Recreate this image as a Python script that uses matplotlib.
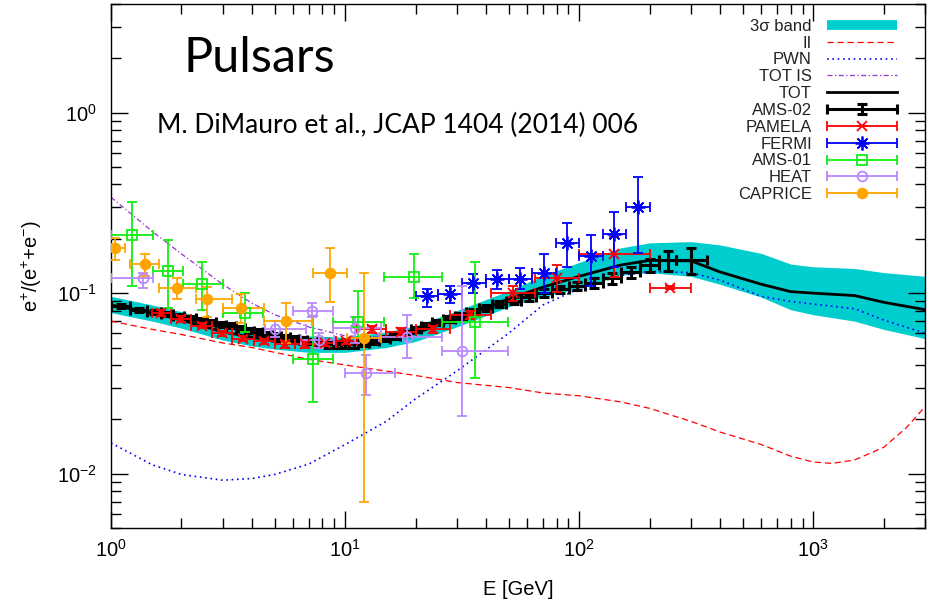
import numpy as np
import matplotlib.pyplot as plt
from matplotlib.lines import Line2D
from matplotlib.legend_handler import HandlerErrorbar

plt.rcParams['font.family'] = ['Liberation Sans', 'DejaVu Sans']
plt.rcParams['mathtext.fontset'] = 'custom'
plt.rcParams['mathtext.rm'] = 'Liberation Sans'
plt.rcParams['mathtext.it'] = 'Liberation Sans:italic'
plt.rcParams['mathtext.bf'] = 'Liberation Sans:bold'

# model curves (energy grid in GeV)
E_model = [1, 1.5, 2, 3, 4, 5, 7, 10, 15, 20, 30, 50, 70, 100, 150, 200, 300, 400,
           600, 800, 1000, 1500, 2000, 3000]
band_lo = [0.078, 0.070, 0.064, 0.055, 0.051, 0.049, 0.047, 0.047, 0.050, 0.054, 0.065, 0.084,
           0.096, 0.106, 0.126, 0.130, 0.124, 0.112, 0.095, 0.081, 0.076, 0.070, 0.063, 0.056]
band_hi = [0.096, 0.086, 0.079, 0.068, 0.063, 0.060, 0.058, 0.057, 0.061, 0.066, 0.080, 0.103,
           0.125, 0.148, 0.178, 0.190, 0.193, 0.185, 0.166, 0.145, 0.140, 0.137, 0.130, 0.124]
tot = [0.086, 0.078, 0.071, 0.061, 0.057, 0.054, 0.052, 0.052, 0.055, 0.060, 0.072, 0.093,
       0.108, 0.124, 0.143, 0.152, 0.151, 0.131, 0.112, 0.102, 0.100, 0.097, 0.089, 0.081]
tot_is = [0.340, 0.220, 0.165, 0.112, 0.088, 0.076, 0.065, 0.058, 0.057, 0.061, 0.072, 0.093,
          0.108, 0.124, 0.143, 0.152, 0.151, 0.131, 0.112, 0.102, 0.100, 0.097, 0.089, 0.081]
pwn = [0.0148, 0.0112, 0.0099, 0.0092, 0.0094, 0.0099, 0.0113, 0.0145, 0.0195, 0.026, 0.037, 0.060,
       0.086, 0.106, 0.125, 0.132, 0.130, 0.118, 0.096, 0.090, 0.087, 0.082, 0.071, 0.060]

E_ii = [1, 1.5, 2, 3, 4, 5, 7, 10, 15, 20, 30, 50, 70, 100, 150, 200, 300, 400, 600, 800,
        1000, 1200, 1500, 2000, 2500, 3000]
ii = [0.070, 0.063, 0.059, 0.053, 0.050, 0.047, 0.043, 0.040, 0.037, 0.035, 0.032, 0.030, 0.028,
      0.027, 0.025, 0.023, 0.0195, 0.017, 0.0145, 0.0125, 0.0116, 0.0114, 0.0119, 0.0140, 0.0180,
      0.0235]

# AMS-02
ams02_edges = [1.0, 1.21, 1.42, 1.63, 1.84, 2.05, 2.31, 2.56, 2.82, 3.11, 3.41, 3.75, 4.10, 4.48,
               4.89, 5.34, 5.82, 6.34, 6.90, 7.50, 8.15, 8.85, 9.59, 10.4, 11.4, 12.6, 14.0, 15.5,
               17.2, 19.1, 21.2, 23.6, 26.3, 29.4, 33.0, 37.3, 42.5, 48.9, 56.5, 65.7, 76.8, 90.1,
               106, 126, 151, 182, 220, 260, 350]
ams02_frac = [0.085, 0.081, 0.079, 0.077, 0.075, 0.073, 0.071, 0.069, 0.067, 0.066,
              0.064, 0.062, 0.061, 0.059, 0.058, 0.057, 0.056, 0.055, 0.054, 0.053,
              0.052, 0.052, 0.052, 0.052, 0.053, 0.054, 0.056, 0.058, 0.060, 0.063,
              0.066, 0.069, 0.072, 0.075, 0.079, 0.083, 0.087, 0.091, 0.095, 0.100,
              0.105, 0.110, 0.114, 0.121, 0.131, 0.143, 0.152, 0.153]
ams02_err = [0.002, 0.002, 0.002, 0.002, 0.002, 0.002, 0.002, 0.002, 0.002, 0.002,
             0.002, 0.002, 0.002, 0.002, 0.002, 0.002, 0.002, 0.002, 0.002, 0.002,
             0.002, 0.002, 0.002, 0.002, 0.002, 0.002, 0.002, 0.002, 0.002, 0.002,
             0.002, 0.002, 0.003, 0.003, 0.003, 0.003, 0.003, 0.004, 0.004, 0.005,
             0.005, 0.006, 0.007, 0.008, 0.009, 0.012, 0.019, 0.025]

# PAMELA
pam_lo = [1.5, 1.8, 2.2, 2.7, 3.3, 4.1, 5.0, 6.1, 7.4, 9.1, 11.2, 15.0, 20.0, 28.0, 42.0, 65.0, 100.0, 200.0]
pam_hi = [1.8, 2.2, 2.7, 3.3, 4.1, 5.0, 6.1, 7.4, 9.1, 11.2, 15.0, 20.0, 28.0, 42.0, 65.0, 100.0, 200.0, 300.0]
pam_E = [1.64, 1.99, 2.44, 2.99, 3.68, 4.52, 5.52, 6.72, 8.2, 10.1, 13.0, 17.3, 23.7, 34.3, 52.3, 80.6, 141, 245]
pam_frac = [0.078, 0.072, 0.066, 0.060, 0.056, 0.054, 0.052, 0.052, 0.053, 0.054, 0.063, 0.061,
            0.063, 0.076, 0.100, 0.122, 0.164, 0.107]
pam_err = [0.003, 0.003, 0.002, 0.002, 0.002, 0.002, 0.002, 0.002, 0.002, 0.002, 0.003, 0.003,
           0.003, 0.004, 0.010, 0.021, 0.041, 0.002]

# FERMI
fermi_lo = [20, 25, 31.6, 39.8, 50, 63, 79.4, 100, 126, 158]
fermi_hi = [25, 31.6, 39.8, 50, 63, 79.4, 100, 126, 158, 200]
fermi_E = [22.3, 28.0, 35.3, 44.6, 56.0, 70.7, 89.0, 112, 141, 178]
fermi_frac = [0.096, 0.099, 0.114, 0.120, 0.120, 0.130, 0.190, 0.161, 0.213, 0.300]
fermi_dn = [0.012, 0.011, 0.014, 0.015, 0.015, 0.030, 0.051, 0.052, 0.073, 0.134]
fermi_up = [0.009, 0.011, 0.013, 0.015, 0.018, 0.034, 0.056, 0.049, 0.067, 0.140]

# AMS-01
ams01_E = [1.23, 1.75, 2.44, 3.73, 7.3, 11.4, 19.6, 36.0]
ams01_lo = [1.0, 1.51, 2.03, 3.0, 6.0, 8.9, 14.7, 26.0]
ams01_hi = [1.51, 2.03, 3.0, 4.45, 8.9, 14.7, 26.0, 49.5]
ams01_frac = [0.211, 0.133, 0.113, 0.078, 0.0434, 0.0695, 0.123, 0.069]
ams01_dn = [0.101, 0.050, 0.032, 0.017, 0.0184, 0.012, 0.029, 0.035]
ams01_up = [0.111, 0.065, 0.035, 0.022, 0.031, 0.033, 0.041, 0.079]

# HEAT
heat_E = [1.37, 5.0, 7.2, 7.7, 11.0, 12.3, 18.3, 31.7]
heat_lo = [1.0, 4.55, 6.0, 6.5, 8.9, 10.0, 14.0, 26.0]
heat_hi = [1.51, 6.8, 8.9, 9.0, 14.3, 16.3, 26.0, 49.5]
heat_frac = [0.122, 0.063, 0.080, 0.055, 0.064, 0.036, 0.0575, 0.048]
heat_dn = [0.015, 0.006, 0.006, 0.005, 0.011, 0.0086, 0.0135, 0.027]
heat_up = [0.008, 0.007, 0.008, 0.005, 0.010, 0.0096, 0.0185, 0.061]

# CAPRICE
cap_E = [1.04, 1.40, 1.91, 2.56, 3.60, 5.6, 8.6, 12.0]
cap_lo = [1.0, 1.2, 1.6, 2.3, 3.0, 4.5, 7.3, 10.2]
cap_hi = [1.15, 1.6, 2.3, 3.3, 4.5, 7.2, 10.2, 14.3]
cap_frac = [0.179, 0.146, 0.107, 0.093, 0.083, 0.0704, 0.130, 0.0565]
cap_dn = [0.026, 0.022, 0.014, 0.019, 0.015, 0.0174, 0.041, 0.0495]
cap_up = [0.024, 0.018, 0.015, 0.015, 0.016, 0.0176, 0.049, 0.0735]

CYAN = '#00CDCD'
GREEN = '#11EE11'
LAVENDER = '#BB88FF'
ORANGE = '#FFA500'
PURPLE = '#9932CC'

fig = plt.figure(figsize=(9.33, 6.12), dpi=100)
ax = fig.add_axes([111 / 933, 1 - 528 / 612, 814 / 933, 524 / 612])
ax.set_xscale('log')
ax.set_yscale('log')
ax.set_xlim(1, 3000)
ax.set_ylim(0.005, 4)

ax.fill_between(E_model, band_lo, band_hi, color=CYAN, lw=0, zorder=1)
ii_line, = ax.plot(E_ii, ii, color='red', lw=0.9, dashes=(5, 3), zorder=2)
pwn_line, = ax.plot(E_model, pwn, color='blue', lw=1.2, dashes=(1, 2.2), zorder=2)
totis_line, = ax.plot(E_model, tot_is, color=PURPLE, lw=0.9, dashes=(4, 2, 1, 2), zorder=2)
tot_line, = ax.plot(E_model, tot, color='black', lw=2.0, zorder=2.5)


def xy_err(E, lo, hi):
    E = np.asarray(E, dtype=float)
    return [E - np.asarray(lo), np.asarray(hi) - E]


def draw_set(E, frac, xerr, yerr, color, marker, ms, mfc, lw=1.3, z=4):
    return ax.errorbar(E, frac, xerr=xerr, yerr=yerr, ls='none', marker=marker, color=color,
                       ms=ms, mfc=mfc, mec=color, mew=lw, elinewidth=lw, capsize=3.5,
                       capthick=lw, zorder=z)


edges = np.asarray(ams02_edges)
ams02_E = np.sqrt(edges[:-1] * edges[1:])
ams02 = ax.errorbar(ams02_E, ams02_frac, xerr=[ams02_E - edges[:-1], edges[1:] - ams02_E],
                    yerr=ams02_err, fmt='none', color='black', elinewidth=2.2, capsize=3.5,
                    capthick=2.2, zorder=3)

pamela = draw_set(pam_E, pam_frac, xy_err(pam_E, pam_lo, pam_hi), pam_err, 'red', 'x', 7, 'none')
fermi = draw_set(fermi_E, fermi_frac, xy_err(fermi_E, fermi_lo, fermi_hi), [fermi_dn, fermi_up],
                 'blue', (8, 2, 0), 10, 'none')
ams01 = draw_set(ams01_E, ams01_frac, xy_err(ams01_E, ams01_lo, ams01_hi), [ams01_dn, ams01_up],
                 GREEN, 's', 7, 'none')
heat = draw_set(heat_E, heat_frac, xy_err(heat_E, heat_lo, heat_hi), [heat_dn, heat_up],
                LAVENDER, 'o', 7, 'none')
caprice = draw_set(cap_E, cap_frac, xy_err(cap_E, cap_lo, cap_hi), [cap_dn, cap_up],
                   ORANGE, 'o', 7, ORANGE)

# axes styling: gnuplot-like inward ticks on all sides
for s in ax.spines.values():
    s.set_linewidth(1.0)
ax.tick_params(which='both', direction='in', top=True, right=True, width=1.0)
ax.tick_params(which='major', length=12, labelsize=14.5)
ax.tick_params(axis='x', which='major', pad=8)
ax.tick_params(axis='y', which='major', pad=10)
ax.tick_params(which='minor', length=7)

ax.set_xlabel('E [GeV]', fontsize=14.5)
ax.xaxis.set_label_coords(0.5, -0.099)
ax.set_ylabel(r'e$^{+}$/(e$^{+}$+e$^{-}$)', fontsize=14.5)
ax.yaxis.set_label_coords(-0.082, 0.5)

band_proxy = Line2D([], [], color=CYAN, lw=7, solid_capstyle='butt')
handles = [band_proxy, ii_line, pwn_line, totis_line, tot_line, ams02, pamela, fermi,
           ams01, heat, caprice]
labels = ['3σ band', 'II', 'PWN', 'TOT IS', 'TOT', 'AMS-02', 'PAMELA', 'FERMI', 'AMS-01',
          'HEAT', 'CAPRICE']
hmap = {h: HandlerErrorbar(xerr_size=2.1, yerr_size=0.0) for h in [pamela, fermi, ams01, heat, caprice]}
hmap[ams02] = HandlerErrorbar(xerr_size=2.1, yerr_size=0.3)
leg = ax.legend(handles, labels, loc='upper right', bbox_to_anchor=(0.9656, 0.972), frameon=False,
                fontsize=12, markerfirst=False, handlelength=4.2, handletextpad=0.9,
                labelspacing=0.11, borderpad=0, borderaxespad=0, numpoints=1, handler_map=hmap)
for t in leg.get_texts():
    t.set_color('#222222')

ax.text(0.0885, 0.870, 'Pulsars', transform=ax.transAxes, fontsize=35,
        family=['Lato', 'DejaVu Sans'], va='baseline')
ax.text(0.0565, 0.754, 'M. DiMauro et al., JCAP 1404 (2014) 006', transform=ax.transAxes,
        fontsize=19, family=['Lato', 'DejaVu Sans'], va='baseline')

fig.savefig('out.png', dpi=100)
